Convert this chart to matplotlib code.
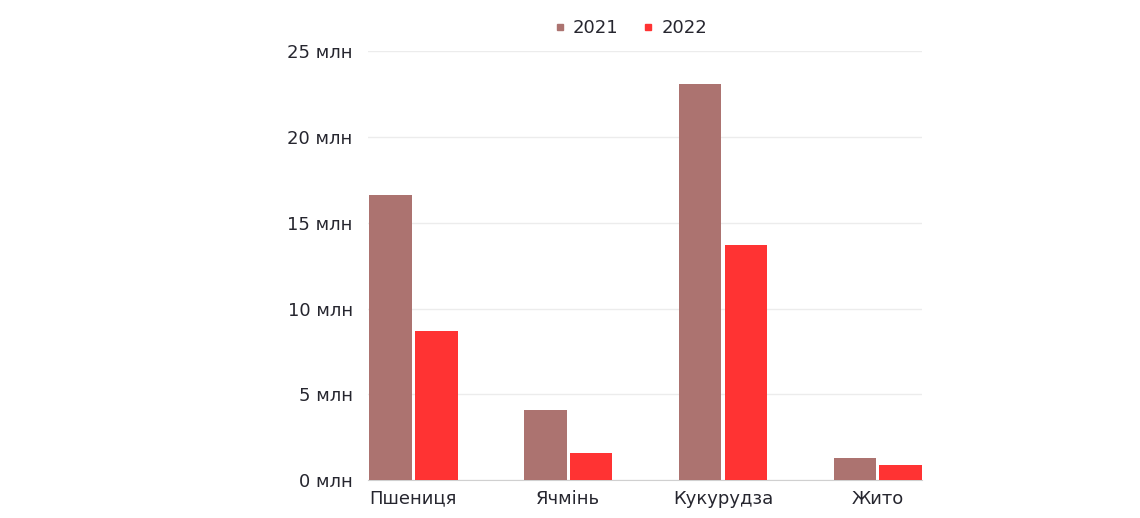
import matplotlib.pyplot as plt
import numpy as np
from matplotlib.lines import Line2D

# Grain harvest, million tonnes
crops = ['Пшениця', 'Ячмінь', 'Кукурудза', 'Жито']
harvest_2021 = [16.6, 4.1, 23.1, 1.3]
harvest_2022 = [8.7, 1.6, 13.7, 0.9]
years = ['2021', '2022']
colors = ['#ac7370', '#ff3333']

plt.rcParams['font.family'] = ['DejaVu Sans']

fig = plt.figure(figsize=(11.4, 5.18), dpi=100)
ax = fig.add_axes([0.3228, 0.0734, 0.486, 0.8274])

x = np.arange(len(crops))
w = 0.275
ax.bar(x - 0.148, harvest_2021, w, color=colors[0], zorder=3)
ax.bar(x + 0.148, harvest_2022, w, color=colors[1], zorder=3)

ax.set_xlim(-0.293, 3.286)
ax.set_ylim(0, 25)
ax.set_yticks(range(0, 26, 5))
ax.set_yticklabels([f'{v} млн' for v in range(0, 26, 5)])
ax.set_xticks(x)
ax.set_xticklabels(crops)

ax.grid(axis='y', color='#ececec', lw=1, zorder=0)
for s in ['top', 'right', 'left']:
    ax.spines[s].set_visible(False)
ax.spines['bottom'].set_color('#d0d0d0')
ax.tick_params(axis='both', length=0, labelsize=13, colors='#26262f')
ax.tick_params(axis='y', pad=11)
ax.tick_params(axis='x', pad=7)

handles = [Line2D([], [], marker='s', ls='', color=c, markersize=5) for c in colors]
fig.legend(handles, years, loc='center', bbox_to_anchor=(0.5515, 0.946), ncol=2,
           frameon=False, handlelength=1.0, handletextpad=0.25, columnspacing=1.1,
           prop={'size': 13}, labelcolor='#26262f')

fig.savefig('out.png', dpi=100)
